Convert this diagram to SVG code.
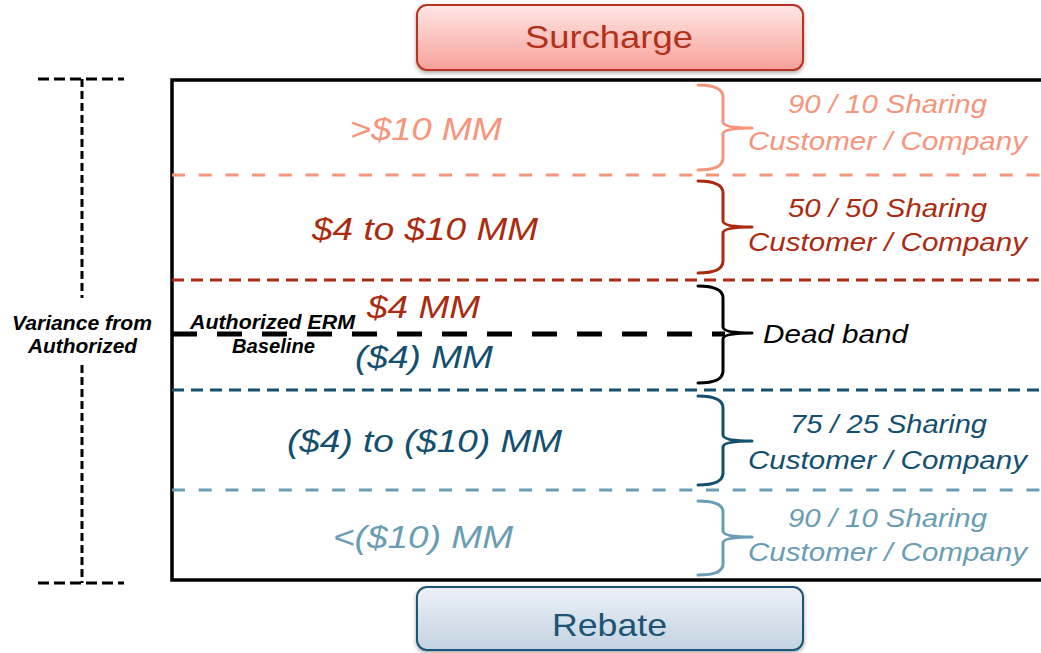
<svg xmlns="http://www.w3.org/2000/svg" width="1041" height="653" viewBox="0 0 1041 653">
<defs>
<linearGradient id="gSur" x1="0" y1="0" x2="0" y2="1"><stop offset="0" stop-color="#FFE6E4"/><stop offset="1" stop-color="#F7A09A"/></linearGradient>
<linearGradient id="gReb" x1="0" y1="0" x2="0" y2="1"><stop offset="0" stop-color="#EDF1F6"/><stop offset="1" stop-color="#C3D3E1"/></linearGradient>
<filter id="sh" x="-5%" y="-20%" width="110%" height="150%"><feDropShadow dx="0" dy="2" stdDeviation="2" flood-color="#000" flood-opacity="0.35"/></filter>
</defs>
<style>
text{font-family:"Liberation Sans",Arial,sans-serif;}
.big{font-size:32px;font-style:italic;text-anchor:start;}
.rt{font-size:26px;font-style:italic;}
.bi{font-size:20px;font-style:italic;font-weight:bold;fill:#000;}
.brace{fill:none;stroke-width:3;stroke-linejoin:round;stroke-linecap:round;}
.c1{fill:#F7957C;stroke:#F7957C;}
.c2{fill:#AA2B10;stroke:#AA2B10;}
.c3{fill:#13506F;stroke:#13506F;}
.c4{fill:#6A9DB4;stroke:#6A9DB4;}
.blk{fill:#000;stroke:#000;}
.nt{stroke:none;}
</style>
<rect width="1041" height="653" fill="#fff"/>

<g id="surcharge">
<rect x="417" y="5" width="386" height="65" rx="10" fill="url(#gSur)" stroke="#B83220" stroke-width="2" filter="url(#sh)"/>
<text x="525" y="48" font-size="32" fill="#B2311A" textLength="168" lengthAdjust="spacingAndGlyphs">Surcharge</text>
</g>

<g id="rebate">
<rect x="417" y="587" width="386" height="63" rx="10" fill="url(#gReb)" stroke="#1B5474" stroke-width="2" filter="url(#sh)"/>
<text x="552" y="636" font-size="32" fill="#1B5474" textLength="115" lengthAdjust="spacingAndGlyphs">Rebate</text>
</g>

<g id="frame">
<path d="M1045,80 L172,80 L172,580 L1045,580" fill="none" stroke="#000" stroke-width="3.5"/>
</g>

<g id="connectors">
<line x1="172" y1="175" x2="1041" y2="175" stroke="#F7957C" stroke-width="3" stroke-dasharray="13 13.7"/>
<line x1="172" y1="280" x2="1041" y2="280" stroke="#AA2B10" stroke-width="3" stroke-dasharray="12 7"/>
<line x1="172" y1="390" x2="1041" y2="390" stroke="#13506F" stroke-width="3" stroke-dasharray="12 7"/>
<line x1="172" y1="490" x2="1041" y2="490" stroke="#6A9DB4" stroke-width="3" stroke-dasharray="13 13.7"/>
<line x1="172" y1="334" x2="725" y2="334" stroke="#000" stroke-width="5" stroke-dasharray="25 20"/>
<line x1="38" y1="79" x2="124" y2="79" stroke="#000" stroke-width="3" stroke-dasharray="11 5"/>
<line x1="38" y1="583" x2="124" y2="583" stroke="#000" stroke-width="3" stroke-dasharray="11 5"/>
<line x1="82" y1="79" x2="82" y2="298" stroke="#000" stroke-width="3" stroke-dasharray="8 4"/>
<line x1="82" y1="365" x2="82" y2="583" stroke="#000" stroke-width="3" stroke-dasharray="8 4"/>
</g>

<g id="variance">
<text class="bi" x="12" y="330" textLength="140" lengthAdjust="spacingAndGlyphs">Variance from</text>
<text class="bi" x="28" y="353" textLength="109" lengthAdjust="spacingAndGlyphs">Authorized</text>
</g>

<g id="baseline-label">
<text class="bi" x="190" y="329" textLength="165" lengthAdjust="spacingAndGlyphs">Authorized ERM</text>
<text class="bi" x="232" y="353" textLength="83" lengthAdjust="spacingAndGlyphs">Baseline</text>
</g>

<g id="band1">
<text class="big c1 nt" x="350" y="140" textLength="152" lengthAdjust="spacingAndGlyphs">&gt;$10 MM</text>
<path class="brace c1" style="fill:none" d="M698,85 Q723,85 723,97 L723,122 Q723,128 752,128 Q723,128 723,134 L723,158 Q723,170 698,170"/>
<text class="rt c1 nt" x="788" y="113" textLength="199" lengthAdjust="spacingAndGlyphs">90 / 10 Sharing</text>
<text class="rt c1 nt" x="748" y="150" textLength="279" lengthAdjust="spacingAndGlyphs">Customer / Company</text>
</g>

<g id="band2">
<text class="big c2 nt" x="312" y="240" textLength="226" lengthAdjust="spacingAndGlyphs">$4 to $10 MM</text>
<path class="brace c2" style="fill:none" d="M698,181 Q723,181 723,193 L723,221 Q723,227 752,227 Q723,227 723,233 L723,261 Q723,273 698,273"/>
<text class="rt c2 nt" x="788" y="217" textLength="199" lengthAdjust="spacingAndGlyphs">50 / 50 Sharing</text>
<text class="rt c2 nt" x="748" y="251" textLength="279" lengthAdjust="spacingAndGlyphs">Customer / Company</text>
</g>

<g id="deadband">
<text class="big c2 nt" x="367" y="318" textLength="113" lengthAdjust="spacingAndGlyphs">$4 MM</text>
<text class="big c3 nt" x="355" y="368" textLength="138" lengthAdjust="spacingAndGlyphs">($4) MM</text>
<path class="brace blk" style="fill:none" d="M698,286 Q723,286 723,298 L723,327 Q723,333 752,333 Q723,333 723,339 L723,371 Q723,383 698,383"/>
<text class="rt blk nt" x="763" y="343" textLength="145" lengthAdjust="spacingAndGlyphs">Dead band</text>
</g>

<g id="band3">
<text class="big c3 nt" x="287" y="452" textLength="275" lengthAdjust="spacingAndGlyphs">($4) to ($10) MM</text>
<path class="brace c3" style="fill:none" d="M698,396 Q723,396 723,408 L723,435 Q723,441 752,441 Q723,441 723,447 L723,473 Q723,485 698,485"/>
<text class="rt c3 nt" x="790" y="433" textLength="197" lengthAdjust="spacingAndGlyphs">75 / 25 Sharing</text>
<text class="rt c3 nt" x="748" y="469" textLength="279" lengthAdjust="spacingAndGlyphs">Customer / Company</text>
</g>

<g id="band4">
<text class="big c4 nt" x="333" y="548" textLength="180" lengthAdjust="spacingAndGlyphs">&lt;($10) MM</text>
<path class="brace c4" style="fill:none" d="M698,501 Q723,501 723,512 L723,531 Q723,537 752,537 Q723,537 723,543 L723,564 Q723,575 698,575"/>
<text class="rt c4 nt" x="788" y="527" textLength="199" lengthAdjust="spacingAndGlyphs">90 / 10 Sharing</text>
<text class="rt c4 nt" x="748" y="561" textLength="279" lengthAdjust="spacingAndGlyphs">Customer / Company</text>
</g>
</svg>
